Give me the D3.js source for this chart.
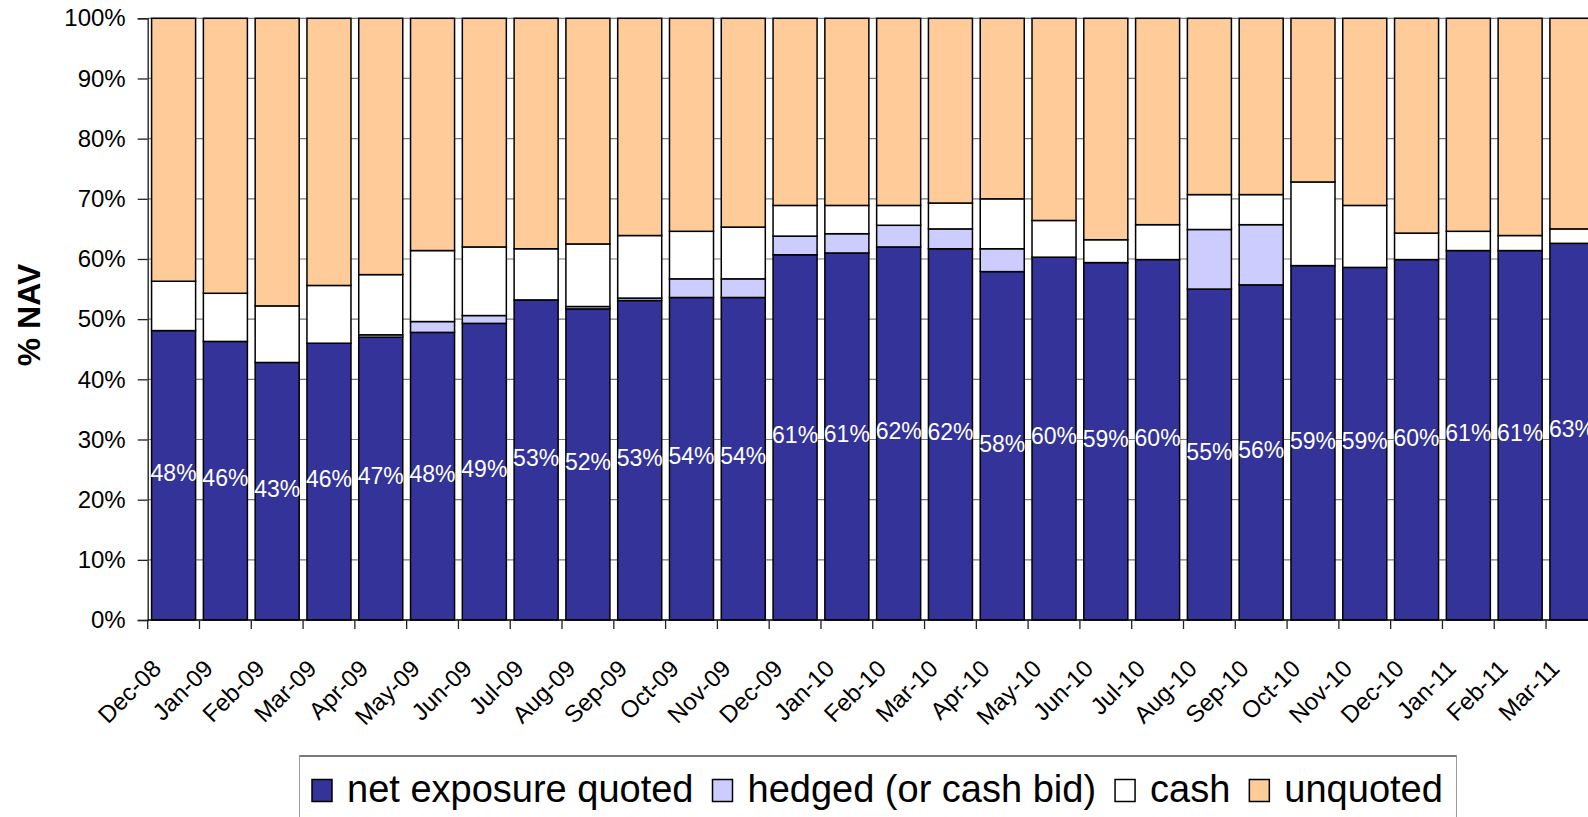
<!DOCTYPE html>
<html>
<head>
<meta charset="utf-8">
<script src="https://cdn.jsdelivr.net/npm/d3@7"></script>
<style>
  html, body { margin: 0; padding: 0; background: #fff; }
  svg { display: block; }
  text { font-family: "Liberation Sans", Arial, sans-serif; }
</style>
</head>
<body>
<svg id="chart" width="1588" height="817"></svg>
<script>
// ---- data ----
const months = ["Dec-08","Jan-09","Feb-09","Mar-09","Apr-09","May-09","Jun-09","Jul-09","Aug-09","Sep-09","Oct-09","Nov-09","Dec-09","Jan-10","Feb-10","Mar-10","Apr-10","May-10","Jun-10","Jul-10","Aug-10","Sep-10","Oct-10","Nov-10","Dec-10","Jan-11","Feb-11","Mar-11"];
const netExposureQuoted = [48.1,46.3,42.8,46.0,47.0,47.8,49.3,53.2,51.7,53.1,53.6,53.6,60.7,61.0,62.0,61.7,57.9,60.3,59.4,59.9,55.0,55.7,58.9,58.6,59.9,61.4,61.4,62.6];
const hedged = [0,0,0,0,0.4,1.8,1.3,0,0.4,0.4,3.1,3.1,3.1,3.2,3.6,3.3,3.8,0,0,0,9.9,10.0,0,0,0,0,0,0];
const cash = [8.2,8.0,9.4,9.6,10.0,11.8,11.4,8.5,10.4,10.4,7.9,8.6,5.1,4.7,3.3,4.3,8.3,6.1,3.8,5.8,5.8,5.0,13.9,10.3,4.4,3.2,2.5,2.4];
const unquoted = [43.7,45.7,47.8,44.4,42.6,38.6,38.0,38.3,37.5,36.1,35.4,34.7,31.1,31.1,31.1,30.7,30.0,33.6,36.8,34.3,29.3,29.3,27.2,31.1,35.7,35.4,36.1,35.0];
const seriesNames = ["net exposure quoted","hedged (or cash bid)","cash","unquoted"];
const seriesColors = ["#333399","#CCCCFF","#FFFFFF","#FFCC99"];
const yTicks = [0,10,20,30,40,50,60,70,80,90,100];

// ---- build table ----
const keys = ["net","hedged","cash","unquoted"];
const table = months.map((m,i) => ({month:m, net:netExposureQuoted[i], hedged:hedged[i], cash:cash[i], unquoted:unquoted[i]}));
const stacked = d3.stack().keys(keys)(table);

const svg = d3.select("#chart");
const x0 = 147.7, step = 51.79;
const x = d3.scaleBand().domain(months).range([x0, x0 + step*months.length]).paddingInner(0.15).paddingOuter(0.075);
const y = d3.scaleLinear().domain([0,100]).range([620, 18.3]);
const color = d3.scaleOrdinal().domain(keys).range(seriesColors);

// gridlines
svg.append("g").selectAll("line").data(yTicks.filter(d=>d>0)).join("line")
  .attr("x1", x0).attr("x2", x0 + step*months.length)
  .attr("y1", d=>y(d)).attr("y2", d=>y(d))
  .attr("stroke", "#7a7a7a").attr("stroke-width", 1.2);

// bars
svg.append("g").selectAll("g").data(stacked).join("g")
  .attr("fill", d => color(d.key))
  .selectAll("rect").data(d => d.filter(s => s[1]-s[0] > 0)).join("rect")
  .attr("x", d => x(d.data.month))
  .attr("width", x.bandwidth())
  .attr("y", d => y(d[1]))
  .attr("height", d => y(d[0]) - y(d[1]))
  .attr("stroke", "#000").attr("stroke-width", 1.5);

// data labels (net exposure)
svg.append("g").selectAll("text").data(stacked[0]).join("text")
  .attr("x", d => x(d.data.month) + x.bandwidth()/2)
  .attr("y", d => (y(d[0]) + y(d[1]))/2)
  .attr("dy", "0.25em")
  .attr("text-anchor", "middle")
  .attr("fill", "#fff")
  .attr("font-size", 23)
  .text(d => Math.round(d.data.net) + "%");

// y axis
const yAxis = svg.append("g").attr("transform", `translate(${x0},0)`)
  .call(d3.axisLeft(y).tickValues(yTicks).tickFormat(d => d + "%").tickSize(10).tickPadding(12));
yAxis.select(".domain").attr("stroke", "#333").attr("stroke-width", 1.5);
yAxis.selectAll(".tick line").attr("stroke", "#222").attr("stroke-width", 1.3);
yAxis.selectAll(".tick text").attr("font-size", 24).attr("fill", "#000").attr("font-family", "Liberation Sans, Arial, sans-serif");

// x axis baseline and ticks at category boundaries
const xAxisG = svg.append("g");
xAxisG.append("line").attr("x1", x0).attr("x2", x0 + step*months.length)
  .attr("y1", y(0)).attr("y2", y(0)).attr("stroke", "#000").attr("stroke-width", 1.5);
xAxisG.selectAll("line.tk").data(months).join("line").attr("class","tk")
  .attr("x1", d => x(d) - x.step()*0.075).attr("x2", d => x(d) - x.step()*0.075)
  .attr("y1", y(0)).attr("y2", y(0) + 9).attr("stroke", "#222").attr("stroke-width", 1.3);
xAxisG.selectAll("text").data(months).join("text")
  .attr("transform", d => `translate(${x(d) + x.bandwidth()/2 - 11},670) rotate(-45)`)
  .attr("text-anchor", "end")
  .attr("font-size", 24).attr("fill", "#000")
  .text(d => d);

// y title
svg.append("text")
  .attr("transform", "translate(39.5,315) rotate(-90)")
  .attr("text-anchor", "middle")
  .attr("font-size", 32).attr("font-weight", "bold").attr("fill", "#000")
  .text("% NAV");

// legend
const lg = svg.append("g");
lg.append("rect").attr("x", 299.5).attr("y", 756).attr("width", 1157).attr("height", 80)
  .attr("fill", "#fff").attr("stroke", "#9a9a9a").attr("stroke-width", 1);
lg.append("line").attr("x1", 299.5).attr("x2", 1456.5).attr("y1", 756).attr("y2", 756)
  .attr("stroke", "#7a7a7a").attr("stroke-width", 2.2);
let lx = 312;
seriesNames.forEach((name, i) => {
  lg.append("rect").attr("x", lx).attr("y", 779.5).attr("width", 20).attr("height", 22)
    .attr("fill", seriesColors[i]).attr("stroke", "#000").attr("stroke-width", 1.5);
  const t = lg.append("text").attr("x", lx + 35).attr("y", 801.5)
    .attr("font-size", 38).attr("fill", "#000").text(name);
  lx = lx + 35 + t.node().getComputedTextLength() + 19;
});
</script>
</body>
</html>
